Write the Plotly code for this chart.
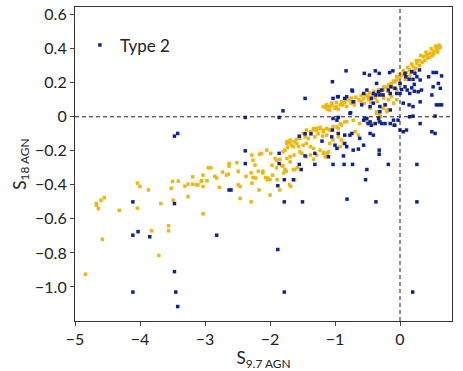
import plotly.graph_objects as go

# yellow population (no legend entry)
yellow_x = [-4.84, -4.67, -4.67, -4.60, -4.55, -4.64, -4.58, -4.32,
            -4.04, -4.00, -4.04, -3.87, -3.82, -3.68, -3.71,
            -3.56, -3.56, -3.52, -3.50, -3.49, -3.41,
            -3.31, -3.26, -3.26, -3.19, -3.19, -3.13, -3.11,
            -3.06, -3.03, -3.03, -3.05, -2.97, -3.03,
            -2.95, -2.91, -2.85, -2.82, -2.78, -2.73, -2.67,
            -2.64, -2.63, -2.63, -2.51, -2.49, -2.49, -2.46, -2.46,
            -2.37, -2.29, -2.28, -2.26, -2.22, -2.29,
            -2.28, -2.26, -2.23, -2.18, -2.17, -2.16, -2.13,
            -2.11, -2.11, -2.07, -2.04, -2.05, -2.03, -2.00, -2.00,
            -1.97, -1.99, -1.96, -1.90, -1.89, -1.85, -1.85,
            -1.82, -1.79, -1.77, -1.75, -1.77, -1.73, -1.74, -1.70,
            -1.70, -1.68, -1.62, -1.64,
            -1.67, -1.63, -1.59, -1.56, -1.62, -1.58, -1.69, -1.63,
            -1.54, -1.49, -1.44, -1.46, -1.41, -1.38,
            -1.33, -1.28, -1.23, -1.18, -1.13, -1.31, -1.26, -1.19,
            -1.38, -1.33, -1.23, -1.17, -1.12, -1.10,
            -1.18, -1.15, -1.10,
            -0.95, -0.90, -0.87, -0.92, -0.69, -0.64, -1.03, -1.08,
            -0.97, -0.92, -0.85, -0.72, -0.62, -0.51, -0.41, -0.33, -0.31,
            -0.36, -0.26, -0.22, -0.18, -0.13, -0.30, -0.20,
            -1.15, -1.10, -1.05, -0.98, -0.92, -0.85, -0.77, -0.70, -0.63,
            -0.56, -0.50, -0.45, -0.41, -0.35, -0.30, -0.26, -0.20, -0.13,
            -0.08, -0.05, 0.00, 0.05, 0.10, 0.15, 0.20, 0.26, 0.30, 0.36,
            0.41, 0.46, 0.51, 0.56, 0.60, 0.62,
            -1.12, -1.00, -0.88, -0.75, -0.60, -0.48, -0.38, -0.28, -0.18,
            -0.10, 0.00, 0.08, 0.15, 0.22, 0.30, 0.38, 0.45, 0.52, 0.58,
            0.12, 0.18, 0.25, 0.32, 0.40, 0.48, 0.55, 0.60, 0.05, 0.00,
            -0.05, 0.10, 0.17, 0.24, 0.34, 0.42, 0.50, 0.57,
            -1.18, -1.13, -1.05, -0.98, -0.90, -0.83, -0.75, -0.68, -0.60,
            -0.53, -0.47, -0.40, -0.33, -0.25, -0.17, -0.10,
            -1.08, -0.95, -0.82, -0.70, -0.55, -0.45, -0.35, -0.25, -0.15, -0.05,
            -0.46, -0.36, -0.20, -0.10, -0.05,
            -1.92, -1.80, -1.74, -1.69, -1.64, -1.59, -1.54, -1.49, -1.44, -1.38,
            -1.33, -1.28, -1.23, -1.18, -1.13, -1.08, -1.03, -0.95, -0.90, -0.82,
            -1.74, -1.69, -1.51, -1.44, -1.33, -1.28, -1.90, -1.80]
yellow_y = [-0.925, -0.51, -0.52, -0.49, -0.475, -0.54, -0.72, -0.55,
            -0.39, -0.41, -0.537, -0.43, -0.67, -0.51, -0.815,
            -0.64, -0.67, -0.42, -0.38, -0.49, -0.378,
            -0.408, -0.396, -0.47, -0.353, -0.396, -0.40, -0.40,
            -0.38, -0.343, -0.57, -0.376, -0.376, -0.41,
            -0.30, -0.30, -0.35, -0.36, -0.415, -0.325, -0.343,
            -0.337, -0.275, -0.29, -0.27, -0.32, -0.40, -0.41, -0.48,
            -0.35, -0.50, -0.39, -0.357, -0.36, -0.33,
            -0.225, -0.255, -0.284, -0.32, -0.43, -0.22, -0.215,
            -0.32, -0.33, -0.357, -0.37, -0.196, -0.36, -0.37, -0.46,
            -0.285, -0.215, -0.343, -0.255, -0.37, -0.25, -0.43,
            -0.285, -0.33, -0.31, -0.32, -0.196, -0.18, -0.157, -0.153,
            -0.40, -0.41, -0.37, -0.31,
            -0.167, -0.147, -0.133, -0.176, -0.31, -0.30, -0.235, -0.225,
            -0.206, -0.167, -0.157, -0.118, -0.127, -0.176,
            -0.078, -0.069, -0.062, -0.078, -0.069, -0.118, -0.10, -0.114,
            -0.225, -0.25, -0.196, -0.21, -0.215, -0.074,
            -0.215, -0.235, -0.206,
            -0.118, -0.137, -0.157, -0.176, -0.088, -0.108, -0.137, -0.157,
            -0.06, -0.04, -0.03, -0.02, -0.04, -0.03, -0.04, -0.03, 0.01,
            0.02, 0.05, 0.07, 0.10, 0.118, 0.00, 0.03,
            0.055, 0.06, 0.065, 0.06, 0.07, 0.085, 0.098, 0.09, 0.10,
            0.108, 0.12, 0.115, 0.128, 0.14, 0.15, 0.157, 0.175, 0.196,
            0.205, 0.216, 0.23, 0.245, 0.26, 0.275, 0.295, 0.314, 0.33, 0.353,
            0.365, 0.373, 0.385, 0.40, 0.405, 0.41,
            0.045, 0.05, 0.07, 0.08, 0.09, 0.10, 0.11, 0.13, 0.15,
            0.17, 0.19, 0.22, 0.24, 0.27, 0.30, 0.33, 0.35, 0.37, 0.38,
            0.29, 0.31, 0.33, 0.36, 0.38, 0.40, 0.415, 0.42, 0.27, 0.25,
            0.235, 0.235, 0.26, 0.285, 0.32, 0.345, 0.36, 0.39,
            0.06, 0.07, 0.08, 0.085, 0.09, 0.10, 0.11, 0.115, 0.125,
            0.13, 0.14, 0.15, 0.16, 0.175, 0.19, 0.21,
            0.04, 0.045, 0.06, 0.07, 0.08, 0.085, 0.09, 0.11, 0.13, 0.16,
            0.05, 0.03, 0.04, 0.08, 0.10,
            -0.245, -0.206, -0.147, -0.137, -0.176, -0.157, -0.127, -0.098, -0.078, -0.088,
            -0.069, -0.078, -0.069, -0.088, -0.108, -0.078, -0.059, -0.069, -0.049, -0.029,
            -0.245, -0.265, -0.215, -0.235, -0.186, -0.225, -0.30, -0.29]

# Type 2
type2_x = [-4.11, -3.47, -4.11, -4.03, -3.85, -2.82, -3.47, -4.11, -3.45, -3.42,
           -2.63, -2.60, -3.47, -3.42,
           -1.88, -1.78, 0.195, -1.78, -1.50, -0.815, -0.37, 0.26, -0.53, -1.78,
           -1.88, -1.52,
           -2.38, -1.86, -1.80, -2.38, -2.38, -1.86, -1.86, -1.64,
           -1.55, -1.46, -1.37, -1.20, -1.46, -1.31, -1.31, -1.55, -1.10,
           -1.46,
           -0.83, -1.04, -0.55, -0.47, -0.38, -0.32, -0.16, -0.11, 0.077, 0.18,
           0.23, 0.30, 0.51, 0.56, 0.64, 0.59, 0.62, 0.60, 0.54,
           0.26, 0.31, 0.20, 0.22, 0.18, 0.22, 0.09, 0.14, 0.077, 0.11, 0.15,
           0.28, 0.33, 0.51, 0.44,
           0.00, 0.026, 0.00, -0.077, -0.05, -0.18, -0.15, -0.14, -0.28, -0.26,
           -0.31, -0.36, -0.33, -0.37, -0.41, -0.44, -0.51, -0.56, -0.74, -0.82,
           -0.95, -1.03, -0.72, -0.59, -0.46, -0.41, -0.31, -0.23, -0.15, -0.76,
           -0.31, 0.05, 0.14, 0.20, 0.31, 0.15, 0.20, 0.49, 0.56, 0.64,
           -0.56, -0.51, -0.46, -0.33, -0.31, -0.03, -0.08,
           -1.03, -0.97, -0.95, -0.77, -0.54, -0.49, -0.44, -0.38, -0.46, -0.41,
           -0.28, -0.23, -0.15, -0.10, -0.09, 0.00, 0.05, 0.10, 0.31, 0.49, 0.54,
           -1.04, -0.95, -0.85, -0.77, -0.74, -1.05, -1.00, -0.97, -0.85, -0.82,
           -0.62, -0.56, -0.72, -0.64, -0.87, -0.32, -0.32, -1.03, -0.86, -0.73,
           -0.18, 0.26, -0.51, -0.96, -0.73, -0.85]
type2_y = [-0.50, -0.51, -0.696, -0.675, -0.705, -0.696, -0.91, -1.03, -1.03, -1.115,
           -0.43, -0.43, -0.114, -0.098,
           -0.78, -1.03, -1.03, -0.50, -0.50, -0.484, -0.50, -0.50, -0.37, -0.37,
           -0.405, -0.31,
           -0.004, -0.004, 0.035, -0.20, -0.275, -0.215, -0.275, -0.37,
           -0.114, -0.10, -0.10, -0.143, -0.23, -0.215, -0.28, -0.28, -0.235,
           0.108,
           0.27, 0.206, 0.255, 0.245, 0.27, 0.255, 0.26, 0.27, 0.255, 0.265,
           0.255, 0.275, 0.26, 0.26, 0.24, 0.196, 0.167, 0.07, 0.004,
           0.235, 0.216, 0.22, 0.19, 0.17, 0.15, 0.235, 0.22, 0.176, 0.157, 0.137,
           0.147, 0.157, 0.176, 0.235,
           0.196, 0.16, 0.137, 0.167, 0.137, 0.157, 0.137, 0.176, 0.157, 0.128,
           0.128, 0.196, 0.147, 0.128, 0.137, 0.108, 0.157, 0.137, 0.157, 0.118,
           0.118, 0.108, 0.088, 0.07, 0.06, 0.08, 0.06, 0.07, 0.04, 0.024,
           0.03, 0.08, 0.07, 0.06, 0.088, 0.00, 0.004, 0.128, 0.07, 0.07,
           -0.02, -0.01, -0.03, -0.01, -0.03, -0.02, -0.05,
           -0.01, -0.02, -0.004, 0.02, -0.01, -0.04, -0.05, -0.04, -0.098, -0.108,
           -0.04, -0.04, -0.04, -0.02, -0.05, -0.078, -0.088, -0.078, -0.04, -0.088, -0.098,
           -0.078, -0.098, -0.108, -0.108, -0.098, -0.118, -0.167, -0.186, -0.157, -0.176,
           -0.127, -0.167, -0.196, -0.19, -0.23, -0.196, -0.22, -0.28, -0.28, -0.28,
           -0.28, -0.28, -0.31, 0.118, 0.151, 0.108]

y_ticks = [0.6, 0.4, 0.2, 0, -0.2, -0.4, -0.6, -0.8, -1.0]
y_tick_labels = ["0.6", "0.4", "0.2", "0", "\u22120.2", "\u22120.4", "\u22120.6", "\u22120.8", "\u22121.0"]
x_ticks = [-5, -4, -3, -2, -1, 0]
x_tick_labels = ["\u22125", "\u22124", "\u22123", "\u22122", "\u22121", "0"]

FONT = "Lato"

fig = go.Figure()
fig.add_trace(go.Scatter(x=yellow_x, y=yellow_y, mode="markers",
                         marker=dict(symbol="square", size=3.5, color="#f2b705"),
                         showlegend=False))
fig.add_trace(go.Scatter(x=type2_x, y=type2_y, mode="markers", name="Type 2",
                         marker=dict(symbol="square", size=3.5, color="#0b22a8")))

# dashed zero lines
fig.add_hline(y=0, line=dict(color="#222", width=1, dash="4px,3px"))
fig.add_vline(x=0, line=dict(color="#222", width=1, dash="4px,3px"))

fig.update_layout(
    width=463, height=371,
    margin=dict(l=75, r=11, t=7, b=50),
    paper_bgcolor="white", plot_bgcolor="white",
    font=dict(family=FONT, size=16, color="#222"),
    legend=dict(x=0.013, y=0.935, xanchor="left", yanchor="top",
                bgcolor="rgba(0,0,0,0)", font=dict(size=17)),
    xaxis=dict(range=[-5, 0.8], tickvals=x_ticks, ticktext=x_tick_labels,
               showgrid=False, zeroline=False, ticks="outside", ticklen=4,
               linecolor="#333", linewidth=1.2, mirror=True, automargin=False,
               title=dict(text="S<sub>9.7 AGN</sub>", font=dict(size=17), standoff=3)),
    yaxis=dict(range=[-1.2, 0.645], tickvals=y_ticks, ticktext=y_tick_labels,
               showgrid=False, zeroline=False, ticks="outside", ticklen=4,
               linecolor="#333", linewidth=1.2, mirror=True, automargin=False,
               title=dict(text="S<sub>18 AGN</sub>", font=dict(size=17), standoff=4)),
)

# the page body has a default 8px margin; drop it so the figure sits at the corner
fig.write_html("out.html", config={"displayModeBar": False},
               post_script="document.body.style.margin='0';")
